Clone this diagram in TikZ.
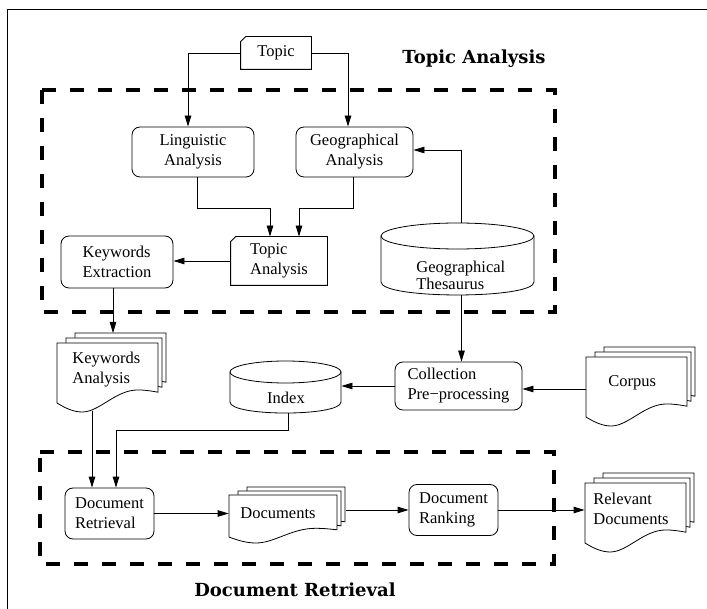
\documentclass[tikz,border=0pt]{standalone}
\usepackage{fontspec}
\setmainfont{Liberation Serif}
\newfontfamily\titlefont{DejaVu Serif}
\usetikzlibrary{arrows.meta}
\newcommand\docshape[5]{%
  \begin{scope}[shift={({#1},{#2})}]
    \draw[fill=white] (0,0) -- ({#3},0) -- ({#3},{#4-1.2*(#5)})
      .. controls ({0.95*(#3)},{#4-1.3*(#5)}) and ({0.88*(#3)},{#4-1.45*(#5)}) .. ({0.8*(#3)},{#4-1.45*(#5)})
      .. controls ({0.58*(#3)},{#4-1.45*(#5)}) and ({0.42*(#3)},{#4+(#5)}) .. ({0.25*(#3)},{#4+(#5)})
      .. controls ({0.16*(#3)},{#4+(#5)}) and ({0.08*(#3)},{#4+0.55*(#5)}) .. (0,{#4}) -- cycle;
  \end{scope}}
\newcommand\docstack[6]{%
  \docshape{#1+18}{#2-2*(#6)}{#3-10}{#4}{#5}%
  \docshape{#1+9}{#2-(#6)}{#3-5}{#4}{#5}%
  \docshape{#1}{#2}{#3}{#4}{#5}}
\newcommand\tagshape[1]{\draw (#1.south west) -- ([yshift=-5pt]#1.north west) -- ([xshift=5pt]#1.north west) -- (#1.north east) -- (#1.south east) -- cycle;}
\begin{document}
\begin{tikzpicture}[x=1pt,y=-1pt,line width=0.8pt,
  every node/.style={font=\fontsize{16.5}{20}\selectfont},
  rbox/.style={draw, rounded corners=8pt, inner sep=0pt},
  plain/.style={inner sep=0pt},
  arr/.style={-{Triangle[length=11pt,width=6.5pt]}},
  dbox/.style={line width=4pt, dash pattern=on 14pt off 14pt},
  title/.style={inner sep=0pt, font=\titlefont\bfseries\fontsize{18}{22}\selectfont},
]
\useasboundingbox (0,0) rectangle (707,609);
\draw[line width=1pt] (707,10) -- (7,10) -- (7,609);

% dashed group boxes
\draw[dbox] (42,90) -- (555,90) -- (555,312) -- (42,312) -- cycle;
\draw[dbox] (40,452) -- (554,452) -- (554,564) -- (40,564) -- cycle;
\node[title] (tatitle) at (474,59) {Topic Analysis};
\node[title] (drtitle) at (295,590) {Document Retrieval};

% top part
\node[plain, minimum width=70pt, minimum height=32pt] (topic) at (276,53) {Topic};
\tagshape{topic}
\node[rbox, minimum width=122pt, minimum height=50pt, align=center] (ling) at (193,152) {Linguistic\\Analysis};
\node[rbox, minimum width=117pt, minimum height=50pt, align=center] (geo) at (354.5,152) {Geographical\\Analysis};
\node[plain, minimum width=96pt, minimum height=48pt, align=left] (ta) at (279,261) {Topic\\Analysis};
\tagshape{ta}
\node[rbox, minimum width=112pt, minimum height=52pt, align=left] (kwe) at (117,262) {Keywords\\Extraction};

% thesaurus cylinder
\draw[fill=white] (381,236) -- (381,282) .. controls (381,299.3) and (534,299.3) .. (534,282) -- (534,236);
\draw (457.5,236) ellipse [x radius=76.5pt, y radius=13pt];
\node[plain, minimum width=153pt, minimum height=72pt] (thes) at (457.5,259) {};
\node[plain, align=left, anchor=west, font=\fontsize{16.5}{17}\selectfont] (thestext) at (416,275) {Geographical\\Thesaurus};

% middle
\node[rbox, minimum width=127pt, minimum height=48pt, align=left] (coll) at (458.5,386) {Collection\\Pre−processing};
\draw[fill=white] (230,372) -- (230,402) .. controls (230,416.7) and (341,416.7) .. (341,402) -- (341,372);
\draw (285.5,372) ellipse [x radius=55.5pt, y radius=11pt];
\node[plain, minimum width=111pt, minimum height=52pt] (index) at (285.5,387) {};
\node[plain] (indextext) at (286,398) {Index};

\docstack{57}{343}{101}{60}{9}{5}
\node[plain, minimum width=101pt, minimum height=60pt] (kwa) at (107.5,373) {};
\node[plain, align=left, anchor=west] (kwatext) at (72,369.5) {Keywords\\Analysis};
\coordinate (kwatop) at (113,333);
\coordinate (kwabot) at (92,411);

\docstack{586}{357}{101}{60}{9}{5}
\node[plain, minimum width=101pt, minimum height=60pt] (corpus) at (636.5,387) {};
\node[plain, anchor=west] (corpustext) at (608,383) {Corpus};

% bottom
\node[rbox, minimum width=89pt, minimum height=51pt, align=left] (dr) at (109.5,513.5) {Document\\Retrieval};
\docstack{229}{495}{108}{42}{6}{4}
\node[plain, minimum width=108pt, minimum height=42pt] (docs) at (283,516) {};
\node[plain, anchor=west] (docstext) at (240,513) {Documents};
\coordinate (docsr) at (346,510);
\node[rbox, minimum width=89pt, minimum height=51pt, align=left] (rank) at (453.5,510) {Document\\Ranking};
\docstack{585}{483}{101}{60}{9}{5}
\node[plain, minimum width=101pt, minimum height=60pt] (rel) at (635.5,513) {};
\node[plain, align=left, anchor=west] (reltext) at (593,508.5) {Relevant\\Documents};

% connectors
\draw[arr] (topic.west) -| ([xshift=-5pt]ling.north);
\draw[arr] (topic.east) -| ([xshift=-6.5pt]geo.north);
\draw[arr] ([xshift=4pt]ling.south) -- ++(0,31) -| ([xshift=-9pt]ta.north);
\draw[arr] ([xshift=-1.5pt]geo.south) -- ++(0,31) -| ([xshift=20pt]ta.north);
\draw[arr] (ta.west) -- (ta.west -| kwe.east);
\draw[arr] ([xshift=-4pt]kwe.south) -- (kwatop);
\draw[arr] ([xshift=3.5pt]thes.north) |- ([yshift=2pt]geo.east);
\draw[arr] ([xshift=4pt]thes.south) -- ([xshift=3pt]coll.north);
\draw[arr] ([yshift=-2pt]corpus.west) -- ([yshift=-3pt]coll.east);
\draw[arr] (coll.west) -- (coll.west -| index.east);
\draw[arr] ([xshift=2.5pt]index.south) -- ++(0,17) -| ([xshift=6.5pt]dr.north);
\draw[arr] (kwabot) -- (kwabot |- dr.north);
\draw[arr] (dr.east) -- (dr.east -| docs.west);
\draw[arr] (docsr) -- (rank.west);
\draw[arr] (rank.east) -- (rank.east -| rel.west);
\end{tikzpicture}
\end{document}
